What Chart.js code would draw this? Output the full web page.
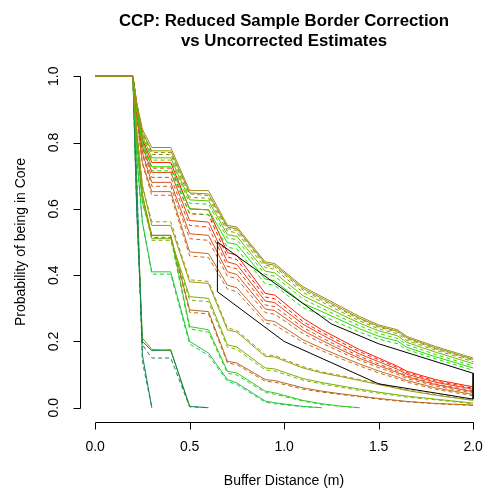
<!DOCTYPE html>
<html>
<head>
<meta charset="utf-8">
<script src="https://cdn.jsdelivr.net/npm/chart.js@4/dist/chart.umd.min.js"></script>
<style>
  body { margin: 0; background: #fff; }
  canvas { display: block; }
</style>
</head>
<body>
<canvas id="graphique" width="484" height="488"></canvas>
<script>
// Buffer distances (m) shared by every estimate curve
const distances = [0, 0.2, 0.22, 0.25, 0.3, 0.4, 0.5, 0.6, 0.7, 0.75, 0.9, 0.95, 1.1, 1.2, 1.3, 1.4, 1.5, 1.6, 1.65, 1.8, 2.0];

// upper group (olive / green)
const a1Corr = [1, 1, 0.92, 0.84, 0.785, 0.785, 0.655, 0.655, 0.55, 0.545, 0.44, 0.435, 0.365, 0.335, 0.305, 0.275, 0.25, 0.235, 0.215, 0.185, 0.15];
const a1Unc = [1, 1, 0.92, 0.835, 0.77, 0.77, 0.645, 0.64, 0.54, 0.535, 0.43, 0.425, 0.355, 0.325, 0.296, 0.267, 0.243, 0.228, 0.208, 0.178, 0.143];
const a2Corr = [1, 1, 0.92, 0.83, 0.775, 0.775, 0.648, 0.645, 0.545, 0.54, 0.435, 0.43, 0.36, 0.33, 0.3, 0.27, 0.246, 0.231, 0.211, 0.181, 0.146];
const a2Unc = [1, 1, 0.91, 0.825, 0.764, 0.764, 0.635, 0.632, 0.533, 0.528, 0.423, 0.418, 0.348, 0.319, 0.29, 0.262, 0.238, 0.223, 0.203, 0.174, 0.139];
const a3Corr = [1, 1, 0.91, 0.82, 0.754, 0.754, 0.627, 0.624, 0.522, 0.517, 0.412, 0.407, 0.338, 0.31, 0.282, 0.255, 0.232, 0.217, 0.197, 0.168, 0.133];
const a3Unc = [1, 1, 0.91, 0.815, 0.747, 0.747, 0.617, 0.614, 0.512, 0.507, 0.402, 0.397, 0.328, 0.3, 0.273, 0.247, 0.224, 0.209, 0.19, 0.161, 0.126];
const a4Corr = [1, 1, 0.9, 0.8, 0.727, 0.727, 0.6, 0.597, 0.498, 0.493, 0.388, 0.383, 0.315, 0.29, 0.264, 0.238, 0.216, 0.201, 0.182, 0.154, 0.12];
const a4Unc = [1, 1, 0.9, 0.795, 0.715, 0.715, 0.586, 0.583, 0.484, 0.479, 0.374, 0.369, 0.302, 0.278, 0.253, 0.228, 0.207, 0.193, 0.175, 0.148, 0.113];

// red / orange group
const b1Corr = [1, 1, 0.91, 0.81, 0.74, 0.74, 0.6, 0.597, 0.468, 0.46, 0.345, 0.34, 0.27, 0.235, 0.205, 0.175, 0.15, 0.125, 0.11, 0.085, 0.063];
const b1Unc = [1, 1, 0.91, 0.805, 0.723, 0.723, 0.585, 0.582, 0.455, 0.447, 0.334, 0.329, 0.26, 0.227, 0.198, 0.169, 0.145, 0.121, 0.106, 0.081, 0.059];
const b2Corr = [1, 1, 0.9, 0.79, 0.71, 0.71, 0.565, 0.56, 0.44, 0.432, 0.322, 0.317, 0.252, 0.22, 0.19, 0.162, 0.139, 0.116, 0.101, 0.077, 0.056];
const b2Unc = [1, 1, 0.9, 0.785, 0.695, 0.695, 0.55, 0.545, 0.427, 0.419, 0.31, 0.305, 0.242, 0.211, 0.182, 0.155, 0.132, 0.11, 0.096, 0.072, 0.051];
const b3Corr = [1, 1, 0.89, 0.77, 0.68, 0.68, 0.525, 0.52, 0.41, 0.402, 0.298, 0.293, 0.233, 0.203, 0.175, 0.149, 0.127, 0.106, 0.093, 0.07, 0.048];
const b3Unc = [1, 1, 0.89, 0.765, 0.668, 0.668, 0.51, 0.505, 0.397, 0.389, 0.287, 0.282, 0.224, 0.195, 0.168, 0.143, 0.121, 0.101, 0.088, 0.066, 0.044];
const b4Corr = [1, 1, 0.88, 0.74, 0.652, 0.652, 0.47, 0.465, 0.37, 0.362, 0.265, 0.26, 0.205, 0.179, 0.155, 0.132, 0.111, 0.093, 0.082, 0.06, 0.04];
const b4Unc = [1, 1, 0.88, 0.735, 0.641, 0.641, 0.458, 0.453, 0.358, 0.35, 0.255, 0.25, 0.197, 0.172, 0.148, 0.126, 0.105, 0.088, 0.077, 0.056, 0.036];

// middle group
const c1Corr = [1, 1, 0.84, 0.67, 0.55, 0.55, 0.38, 0.375, 0.235, 0.228, 0.155, 0.153, 0.12, 0.105, 0.094, 0.082, 0.07, 0.058, 0.052, 0.038, 0.022];
const c1Unc = [1, 1, 0.84, 0.67, 0.561, 0.561, 0.386, 0.381, 0.241, 0.233, 0.16, 0.157, 0.124, 0.108, 0.097, 0.085, 0.073, 0.06, 0.054, 0.04, 0.024];
const c2Corr = [1, 1, 0.82, 0.645, 0.51, 0.51, 0.335, 0.33, 0.19, 0.183, 0.12, 0.117, 0.088, 0.076, 0.066, 0.056, 0.047, 0.039, 0.035, 0.026, 0.014];
const c2Unc = [1, 1, 0.82, 0.64, 0.505, 0.505, 0.325, 0.32, 0.183, 0.176, 0.114, 0.111, 0.083, 0.072, 0.062, 0.052, 0.044, 0.036, 0.032, 0.024, 0.012];
const c3Corr = [1, 1, 0.82, 0.64, 0.52, 0.52, 0.295, 0.29, 0.14, 0.135, 0.085, 0.082, 0.06, 0.05, 0.042, 0.035, 0.028, 0.022, 0.019, 0.013, 0.008];
const c3Unc = [1, 1, 0.82, 0.64, 0.514, 0.514, 0.288, 0.283, 0.135, 0.13, 0.08, 0.077, 0.056, 0.047, 0.04, 0.033, 0.026, 0.02, 0.018, 0.012, 0.007];
const c4Corr = [1, 1, 0.8, 0.62, 0.52, 0.52, 0.245, 0.235, 0.11, 0.105, 0.05, 0.045, 0.022, 0.012, 0.005, 0, null, null, null, null, null];
const c4Unc = [1, 1, 0.8, 0.62, 0.512, 0.512, 0.238, 0.228, 0.104, 0.099, 0.046, 0.041, 0.02, 0.01, 0.004, 0, null, null, null, null, null];

// lower groups
const d1Corr = [1, 1, 0.76, 0.56, 0.41, 0.41, 0.2, 0.165, 0.085, 0.075, 0.02, 0.015, 0.004, 0, null, null, null, null, null, null, null];
const d1Unc = [1, 1, 0.76, 0.56, 0.403, 0.403, 0.192, 0.158, 0.08, 0.07, 0.017, 0.012, 0.003, 0, null, null, null, null, null, null, null];
const e1Corr = [1, 1, 0.6, 0.2, 0.172, 0.175, 0.004, 0, null, null, null, null, null, null, null, null, null, null, null, null, null];
const e1Unc = [1, 1, 0.6, 0.19, 0.15, 0.15, 0.003, 0, null, null, null, null, null, null, null, null, null, null, null, null, null];
const e2Corr = [1, 1, 0.62, 0.21, 0.176, 0.172, 0.005, null, null, null, null, null, null, null, null, null, null, null, null, null, null];
const g1Corr = [1, 1, 0.69, 0.16, 0, null, null, null, null, null, null, null, null, null, null, null, null, null, null, null, null];
const g1Unc = [1, 1, 0.69, 0.14, 0, null, null, null, null, null, null, null, null, null, null, null, null, null, null, null, null];

// black outline
const contourX = [0.647, 0.647, 1.25, 1.5, 2.0, 2.0, 1.5, 1.0, 0.647];
const contourY = [0.35, 0.5, 0.253, 0.193, 0.104, 0.026, 0.072, 0.2, 0.35];

const xTicks = [0, 0.5, 1.0, 1.5, 2.0];
const yTicks = [0, 0.2, 0.4, 0.6, 0.8, 1.0];

const courbes = [
  [a1Corr, "#a08a20", false], [a1Unc, "#a08a20", true],
  [a2Corr, "#88a000", false], [a2Unc, "#88a000", true],
  [a3Corr, "#5cc400", false], [a3Unc, "#5cc400", true],
  [a4Corr, "#22e000", false], [a4Unc, "#22e000", true],
  [b1Corr, "#ff1a00", false], [b1Unc, "#ff1a00", true],
  [b2Corr, "#e84010", false], [b2Unc, "#e84010", true],
  [b3Corr, "#d8561c", false], [b3Unc, "#d8561c", true],
  [b4Corr, "#c86a20", false], [b4Unc, "#c86a20", true],
  [c1Corr, "#9a9a10", false], [c1Unc, "#9a9a10", true],
  [c2Corr, "#7cb000", false], [c2Unc, "#7cb000", true],
  [c3Corr, "#b8661a", false], [c3Unc, "#b8661a", true],
  [c4Corr, "#33cc22", false], [c4Unc, "#33cc22", true],
  [d1Corr, "#22c840", false], [d1Unc, "#22c840", true],
  [e1Corr, "#118850", false], [e1Unc, "#118850", true],
  [e2Corr, "#66a800", false],
  [g1Corr, "#108858", false], [g1Unc, "#209048", true]
];

const datasets = [{
  data: contourX.map((x, i) => ({ x: x, y: contourY[i] })),
  borderColor: "#000000",
  borderWidth: 1
}];
for (const [valeurs, couleur, tirets] of courbes) {
  datasets.push({
    data: distances.map((x, i) => ({ x: x, y: valeurs[i] })),
    borderColor: couleur,
    borderWidth: 1,
    borderDash: tirets ? [4, 3] : []
  });
}

const police = '"Liberation Sans", Arial, Helvetica, sans-serif';

// R-style axes, labels and title
const axesR = {
  id: "axesR",
  beforeDraw(chart) {
    const ctx = chart.ctx;
    ctx.save();
    ctx.fillStyle = "#ffffff";
    ctx.fillRect(0, 0, chart.width, chart.height);
    ctx.restore();
  },
  afterDraw(chart) {
    const ctx = chart.ctx;
    const sx = chart.scales.x;
    const sy = chart.scales.y;
    const xAxe = 422;
    const yAxe = 80;
    ctx.save();
    ctx.strokeStyle = "#000";
    ctx.lineWidth = 1;
    ctx.fillStyle = "#000";

    // x axis
    ctx.beginPath();
    ctx.moveTo(Math.round(sx.getPixelForValue(xTicks[0])) + 0.5, xAxe + 0.5);
    ctx.lineTo(Math.round(sx.getPixelForValue(xTicks[xTicks.length - 1])) + 0.5, xAxe + 0.5);
    for (const t of xTicks) {
      const px = Math.round(sx.getPixelForValue(t)) + 0.5;
      ctx.moveTo(px, xAxe + 0.5);
      ctx.lineTo(px, xAxe + 7.5);
    }
    ctx.stroke();
    ctx.font = "14px " + police;
    ctx.textAlign = "center";
    ctx.textBaseline = "middle";
    for (const t of xTicks) {
      ctx.fillText(t.toFixed(1), sx.getPixelForValue(t), 447);
    }

    // y axis
    ctx.beginPath();
    ctx.moveTo(yAxe + 0.5, Math.round(sy.getPixelForValue(yTicks[0])) + 0.5);
    ctx.lineTo(yAxe + 0.5, Math.round(sy.getPixelForValue(yTicks[yTicks.length - 1])) + 0.5);
    for (const t of yTicks) {
      const py = Math.round(sy.getPixelForValue(t)) + 0.5;
      ctx.moveTo(yAxe + 0.5, py);
      ctx.lineTo(yAxe - 6.5, py);
    }
    ctx.stroke();
    for (const t of yTicks) {
      ctx.save();
      ctx.translate(54, sy.getPixelForValue(t));
      ctx.rotate(-Math.PI / 2);
      ctx.fillText(t.toFixed(1), 0, 0);
      ctx.restore();
    }

    // axis titles
    ctx.fillText("Buffer Distance (m)", 284, 481);
    ctx.save();
    ctx.translate(21, (sy.getPixelForValue(0) + sy.getPixelForValue(1)) / 2);
    ctx.rotate(-Math.PI / 2);
    ctx.fillText("Probability of being in Core", 0, 0);
    ctx.restore();

    // main title
    ctx.font = "bold 16.8px " + police;
    ctx.textBaseline = "alphabetic";
    ctx.fillText("CCP: Reduced Sample Border Correction", 284, 26);
    ctx.fillText("vs Uncorrected Estimates", 284, 45.5);
    ctx.restore();
  }
};

new Chart(document.querySelector("#graphique"), {
  type: "line",
  data: { datasets: datasets },
  options: {
    responsive: false,
    animation: false,
    events: [],
    layout: { padding: { left: 80, right: 0, top: 63, bottom: 67 } },
    elements: { point: { radius: 0 }, line: { tension: 0 } },
    plugins: { legend: { display: false }, tooltip: { enabled: false } },
    scales: {
      x: { type: "linear", min: -0.08, max: 2.0576, display: false },
      y: { type: "linear", min: -0.04, max: 1.04, display: false }
    }
  },
  plugins: [axesR]
});
</script>
</body>
</html>
